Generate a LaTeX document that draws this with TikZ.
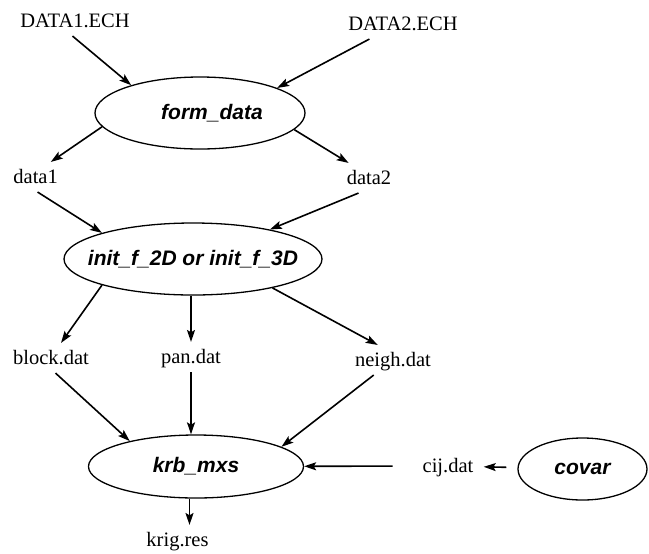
\documentclass[tikz,border=0pt]{standalone}
\usepackage{fontspec}
\setmainfont{Liberation Serif}
\setsansfont{Liberation Sans}
\usetikzlibrary{shapes.geometric,arrows.meta}

\begin{document}
\begin{tikzpicture}[x=0.5pt, y=-0.5pt, line width=0.8pt,
    >={Stealth[length=6pt,width=4pt,inset=1.2pt]},
    every edge/.style={draw,->},
    file/.style={inner sep=3pt, text height=1.6ex, text depth=0.2ex, font=\fontsize{10.25}{12}\selectfont},
    prog/.style={draw, ellipse, line width=0.65pt, inner sep=0pt, font=\sffamily\bfseries\itshape\fontsize{10.5}{12}\selectfont}]
    \useasboundingbox (0,0) rectangle (649,553);
    % input files and first program
    \node [file] (DataOne) at (75,21) {DATA1.ECH};
    \node [file] (DataTwo) at (403,24) {DATA2.ECH};
    \node [prog, minimum width=105pt, minimum height=36pt] (FormData) at (200,113) {\hspace*{12pt}form\_data};
    \node [file] (DataOut1) at (35.6,177) {data1};
    \node [file] (DataOut2) at (369,178) {data2};
    % initialisation
    \node [prog, minimum width=129pt, minimum height=36pt] (Init) at (193,259) {\makebox[0pt]{init\_f\_2D or init\_f\_3D}};
    \node [file] (Block) at (51,358) {block.dat};
    \node [file] (Pan) at (191,357) {pan.dat};
    \node [file] (Neigh) at (393,360) {neigh.dat};
    % kriging
    \node [prog, minimum width=107.5pt, minimum height=31.5pt] (Krb) at (196,466.5) {krb\_mxs};
    \node [file] (Cij) at (448,466) {cij.dat};
    \node [prog, minimum width=64.5pt, minimum height=31pt] (Covar) at (582.5,469) {covar};
    \node [file] (KrigRes) at (177.5,540) {krig.res};
    \path ([xshift=-1.25pt]DataOne.south) edge (FormData.158);
    \path ([xshift=-16.8pt]DataTwo.south) edge (FormData.18);
    \path (FormData.188) edge ([xshift=7.6pt]DataOut1.north);
    \path (FormData.350) edge ([xshift=-10.2pt]DataOut2.north);
    \path ([xshift=1pt]DataOut1.south) edge (Init.164);
    \path ([xshift=-5.25pt]DataOut2.south) edge (Init.21);
    \path (Init.196) edge ([xshift=5pt]Block.north);
    \path (Init.south -| Pan) edge (Pan);
    \path (Init.340) edge ([xshift=-7.65pt]Neigh.north);
    \path ([xshift=2.25pt]Block.south) edge (Krb.159);
    \path (Pan) edge (Pan |- Krb.north);
    \path ([xshift=-9.65pt]Neigh.south) edge (Krb.13);
    \path (Cij) edge[shorten <=11.6pt] (Krb);
    \path (Covar) edge[shorten <=5.5pt, shorten >=1.8pt] (Cij);
    \path ([xshift=6pt]KrigRes.north |- Krb.south) edge ([xshift=6pt]KrigRes.north);
\end{tikzpicture}
\end{document}
